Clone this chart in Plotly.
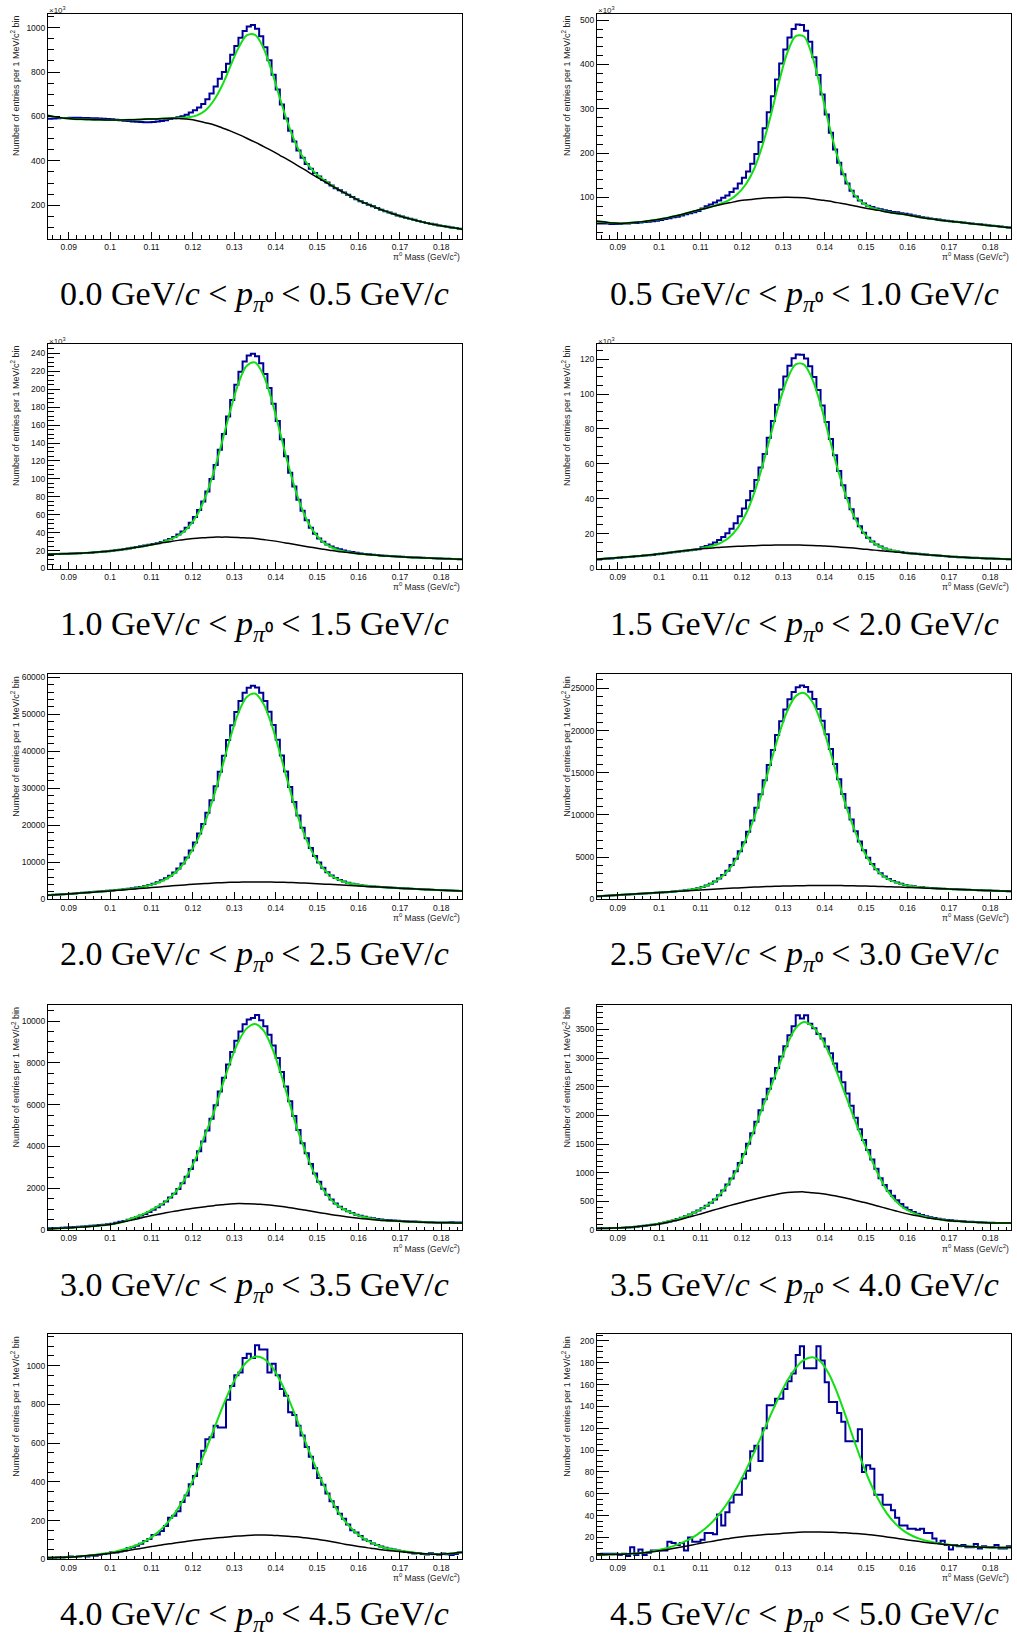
import numpy as np
import plotly.graph_objects as go

# ---------------------------------------------------------------------------
# Binning of the diphoton invariant-mass histograms
# ---------------------------------------------------------------------------
MASS_MIN, MASS_MAX = 0.085, 0.185   # GeV/c^2
BIN_WIDTH = 0.001                   # 1 MeV/c^2 per bin
CURVE_STEP = 0.002                  # fit functions tabulated every 2 MeV/c^2

# pi0 momentum slices (GeV/c)
p_low = ["0.0", "0.5", "1.0", "1.5", "2.0", "2.5", "3.0", "3.5", "4.0", "4.5"]
p_high = ["0.5", "1.0", "1.5", "2.0", "2.5", "3.0", "3.5", "4.0", "4.5", "5.0"]

# ---------------------------------------------------------------------------
# 0.0 - 0.5 GeV/c  (entries in units of 10^3)
# ---------------------------------------------------------------------------
hist_00_05 = [590, 591, 592, 593, 593, 594, 594, 594, 593, 593, 592, 592, 591, 590, 589,
              587, 585, 583, 581, 579, 577, 576, 575, 574, 574, 575, 577, 580, 583, 588,
              592, 596, 601, 608, 618, 628, 640, 656, 677, 703, 735, 770, 800, 838, 878,
              918, 955, 985, 1005, 1012,
              995, 961, 912, 853, 788, 721, 654, 591, 536, 487, 447, 414, 386, 364, 345,
              329, 314, 302, 289, 277,
              267, 257, 247, 237, 227, 218, 210, 202, 195, 187, 180, 173, 167, 161, 154,
              149, 144, 139, 134, 129, 124, 120, 116, 113, 109, 106, 103, 100, 97, 94]
fit_00_05 = [604, 597, 592, 589, 587, 586, 585, 584, 584, 584, 585, 586, 588, 589, 591, 592,
             593, 596, 605, 627, 671, 737, 824, 909, 965, 968, 911, 807, 683, 566, 471, 404,
             356, 322, 296, 272, 252, 232, 214, 199, 183, 170, 157, 146, 136, 126, 118, 111,
             104, 98, 92]
bkg_00_05 = [604, 597, 592, 589, 587, 586, 585, 584, 584, 584, 585, 586, 588, 589, 591, 592,
             590, 587, 581, 572, 563, 549, 535, 519, 502, 484, 465, 446, 425, 404, 382, 360,
             337, 315, 294, 272, 252, 232, 214, 199, 183, 170, 157, 146, 136, 126, 118, 111,
             104, 98, 92]

# ---------------------------------------------------------------------------
# 0.5 - 1.0 GeV/c  (units of 10^3)
# ---------------------------------------------------------------------------
hist_05_10 = [41, 41, 41, 40, 40, 40, 41, 41, 42, 42,
              43, 44, 45, 46, 47, 49, 51, 53, 55, 56,
              59, 62, 64, 66, 69, 75, 80, 84, 88, 93,
              99, 104, 112, 120, 131, 144, 158, 176, 198, 225,
              256, 292, 328, 366, 402, 434, 461, 480, 490, 489,
              476, 451, 416, 376, 332, 287, 246, 208, 178, 152,
              131, 115, 102, 93, 86, 81, 78, 75, 73, 71,
              69, 67, 66, 64, 63, 61, 59, 57, 55, 54,
              52, 51, 50, 48, 47, 46, 45, 44, 43, 42,
              41, 40, 39, 38, 37, 36, 35, 34, 33, 32]
fit_05_10 = [46, 44, 42, 41, 42.5, 44, 46.5, 49, 52, 56, 60, 65, 70, 75, 80, 86,
             94, 108, 130, 165, 218, 286, 362, 427, 464, 463, 419, 346, 265.5, 194.5, 142, 108,
             88.5, 78, 72, 67.4, 64, 61.5, 58.5, 55, 52, 49.5, 47, 45, 43, 41, 39, 37,
             35, 33, 31]
bkg_05_10 = [46, 44, 42, 41, 42.5, 44, 46.5, 49, 52, 56, 60, 65, 70, 74.5, 79.5, 84,
             87.5, 91.5, 94, 96, 98, 99, 99.8, 99.9, 99.5, 98.8, 96.5, 94, 91.5, 88, 85, 81,
             77, 73.5, 70.5, 67, 64, 61.5, 58.5, 55, 52, 49.5, 47, 45, 43, 41, 39, 37,
             35, 33, 31]

# ---------------------------------------------------------------------------
# 1.0 - 1.5 GeV/c  (units of 10^3)
# ---------------------------------------------------------------------------
hist_10_15 = [16.1, 16.2, 16.3, 16.4, 16.5, 16.6, 16.8, 17.0, 17.2, 17.4,
              17.7, 18.1, 18.5, 18.9, 19.3, 19.8, 20.4, 21.0, 21.6, 22.2,
              23.2, 24.0, 24.8, 25.6, 26.4, 27.2, 28.2, 29.7, 31.2, 32.9,
              35.2, 37.8, 41.3, 45.5, 51.1, 57.4, 65.3, 74.8, 86.0, 99.9,
              115.5, 132.6, 150.0, 169.5, 188.0, 204.9, 219.6, 230.8, 237.5, 239.7,
              236.7, 229.1, 217.0, 201.4, 183.8, 164.6, 144.3, 125.1, 106.7, 91.4,
              76.6, 64.3, 53.8, 45.4, 38.8, 33.6, 29.8, 26.7, 24.5, 22.7,
              21.4, 20.0, 19.0, 18.3, 17.6, 16.8, 16.2, 15.8, 15.4, 15.0,
              14.5, 14.2, 13.9, 13.6, 13.3, 13.0, 12.8, 12.6, 12.4, 12.2,
              12.0, 11.8, 11.6, 11.4, 11.2, 11.0, 10.9, 10.7, 10.6, 10.4]
fit_10_15 = [16, 16.2, 16.4, 16.7, 17.1, 17.5, 18.3, 19.1, 20.1, 21.3, 22.5, 24.1, 25.7, 27.3,
             30, 33.4, 38.2, 46.4, 59.6, 79.5, 107.1, 140.3, 175.7, 206.6, 226.2, 229.9, 216.1,
             188.4, 152.7, 116.2, 84.2, 59.4, 42.2, 31.3, 24.8, 20.8, 18.6, 17, 16.1, 15.3,
             14.5, 13.9, 13.3, 12.8, 12.4, 12, 11.6, 11.2, 10.9, 10.6, 10.3]
bkg_10_15 = [16, 16.2, 16.4, 16.7, 17.1, 17.5, 18.3, 19.1, 20.1, 21.3, 22.5, 24.1, 25.7, 27.3,
             28.9, 30.5, 31.7, 32.9, 33.8, 34.4, 35, 35, 35, 34.7, 34.1, 33.5, 32.3, 31.1,
             29.7, 28.1, 26.5, 24.9, 23.3, 21.8, 20.4, 19, 18, 17, 16.1, 15.3, 14.5, 13.9,
             13.3, 12.8, 12.4, 12, 11.6, 11.2, 10.9, 10.6, 10.3]

# ---------------------------------------------------------------------------
# 1.5 - 2.0 GeV/c  (units of 10^3)
# ---------------------------------------------------------------------------
hist_15_20 = [5.2, 5.4, 5.6, 5.8, 6.0, 6.2, 6.4, 6.6, 6.8, 7.0,
              7.2, 7.4, 7.6, 7.8, 8.1, 8.4, 8.7, 9.0, 9.3, 9.6,
              9.9, 10.2, 10.5, 10.8, 11.1, 12.2, 12.9, 13.7, 14.9, 16.4,
              18.1, 20.2, 22.8, 26.0, 30.0, 34.4, 39.2, 44.5, 50.7, 57.9,
              65.7, 75.0, 84.5, 93.9, 102.6, 110.1, 116.2, 120.5, 122.7, 122.6,
              120.4, 116.0, 109.8, 102.3, 93.5, 84.0, 74.3, 64.9, 55.9, 47.7,
              40.4, 34.0, 28.6, 24.2, 20.5, 17.7, 15.5, 13.8, 12.6, 11.5,
              10.8, 10.2, 9.8, 9.4, 9.1, 8.8, 8.6, 8.4, 8.2, 8.0,
              7.8, 7.6, 7.4, 7.2, 7.0, 6.8, 6.7, 6.5, 6.4, 6.3,
              6.2, 6.1, 6.0, 5.9, 5.8, 5.7, 5.6, 5.5, 5.4, 5.3]
fit_15_20 = [5.3, 5.7, 6.0, 6.4, 6.8, 7.2, 7.6, 8.1, 8.6, 9.3, 9.9, 10.5, 11.0, 12.0,
             13.0, 14.8, 17.9, 23.3, 31.5, 43.5, 59.1, 76.8, 94.5, 108.8, 117.0, 116.9,
             108.6, 94.1, 76.1, 58.2, 42.5, 30.3, 21.8, 16.3, 12.9, 11.1, 10.0, 9.0, 8.6,
             8.2, 7.8, 7.4, 7.1, 6.8, 6.5, 6.2, 6.0, 5.8, 5.6, 5.45, 5.3]
bkg_15_20 = [5.3, 5.7, 6.0, 6.4, 6.8, 7.2, 7.6, 8.1, 8.6, 9.3, 9.9, 10.5, 11.0, 11.5,
             11.8, 12.2, 12.4, 12.7, 12.9, 13.1, 13.3, 13.4, 13.5, 13.5, 13.45, 13.4,
             13.25, 13.05, 12.7, 12.4, 12.1, 11.7, 11.2, 10.8, 10.3, 9.9, 9.5, 9.0, 8.6,
             8.2, 7.8, 7.4, 7.1, 6.8, 6.5, 6.2, 6.0, 5.8, 5.6, 5.45, 5.3]

# ---------------------------------------------------------------------------
# 2.0 - 2.5 GeV/c
# ---------------------------------------------------------------------------
hist_20_25 = [1155, 1225, 1295, 1365, 1435, 1510, 1590, 1670, 1750, 1830,
              1940, 2030, 2115, 2200, 2290, 2385, 2480, 2580, 2705, 2825,
              2975, 3155, 3326, 3565, 3882, 4234, 4640, 5116, 5691, 6394,
              7260, 8335, 9665, 11297, 13181, 15378, 17789, 20365, 23371, 26747,
              30532, 34466, 38800, 43034, 47048, 50628, 53564, 55810, 57196, 57692,
              57215, 55835, 53595, 50665, 47105, 43113, 38889, 34565, 30341, 26277,
              22624, 19332, 16470, 13873, 11701, 9949, 8495, 7343, 6446, 5760,
              5237, 4840, 4492, 4214, 3989, 3800, 3671, 3560, 3470, 3388,
              3300, 3230, 3170, 3105, 3045, 2985, 2925, 2870, 2810, 2755,
              2700, 2645, 2592, 2540, 2488, 2440, 2392, 2346, 2300, 2254]
fit_20_25 = [1100, 1240, 1380, 1530, 1690, 1870, 2050, 2230, 2420, 2640, 2870, 3150, 3638,
             4299, 5202, 6544, 8587, 11686, 15846, 21028, 27640, 35418, 43566, 50376, 54658,
             55590, 52930, 47260, 39656, 31388, 23620, 17296, 12407, 8959, 6733, 5389, 4558,
             4059, 3737, 3480, 3330, 3180, 3060, 2944, 2832, 2720, 2616, 2512, 2414, 2322, 2230]
bkg_20_25 = [1100, 1240, 1380, 1530, 1690, 1850, 2018, 2186, 2360, 2540, 2720, 2900, 3080,
             3262, 3446, 3630, 3806, 3982, 4136, 4268, 4400, 4488, 4576, 4636, 4668, 4700,
             4680, 4660, 4616, 4548, 4480, 4376, 4272, 4160, 4040, 3920, 3792, 3664, 3540,
             3420, 3300, 3180, 3060, 2944, 2832, 2720, 2616, 2512, 2414, 2322, 2230]

# ---------------------------------------------------------------------------
# 2.5 - 3.0 GeV/c
# ---------------------------------------------------------------------------
hist_25_30 = [360, 390, 420, 450, 480, 510, 540, 570, 600, 630,
              660, 690, 720, 750, 785, 815, 850, 880, 910, 970,
              1018, 1077, 1145, 1226, 1330, 1458, 1625, 1836, 2112, 2457,
              2877, 3398, 4057, 4795, 5699, 6767, 7999, 9347, 10838, 12449,
              14098, 15914, 17710, 19466, 21092, 22505, 23705, 24585, 25145, 25345,
              25162, 24616, 23750, 22564, 21168, 19558, 17814, 16030, 14226, 12492,
              10846, 9467, 8081, 6861, 5807, 4917, 4191, 3574, 3085, 2699,
              2398, 2164, 1985, 1830, 1709, 1612, 1533, 1467, 1420, 1379,
              1330, 1300, 1280, 1255, 1235, 1215, 1195, 1175, 1155, 1135,
              1115, 1095, 1075, 1057, 1040, 1022, 1006, 990, 974, 958]
fit_25_30 = [350, 410, 470, 530, 590, 650, 710, 770, 830, 890, 970, 1070, 1272, 1534, 1958,
             2604, 3606, 5089, 7131, 9730, 12845, 16268, 19618, 22373, 24082, 24454, 23419,
             21166, 18082, 14644, 11285, 8480, 6146, 4413, 3232, 2486, 2031, 1738, 1546,
             1426, 1335, 1280, 1240, 1200, 1160, 1120, 1084, 1048, 1014, 982, 950]
bkg_25_30 = [350, 410, 470, 530, 590, 650, 710, 770, 830, 890, 950, 1010, 1070, 1130, 1190,
             1250, 1302, 1354, 1402, 1446, 1490, 1522, 1554, 1580, 1600, 1620, 1628, 1636,
             1636, 1628, 1620, 1600, 1580, 1556, 1528, 1500, 1464, 1428, 1392, 1356, 1320,
             1280, 1240, 1200, 1160, 1120, 1084, 1048, 1014, 982, 950]

# ---------------------------------------------------------------------------
# 3.0 - 3.5 GeV/c
# ---------------------------------------------------------------------------
hist_30_35 = [80, 90, 100, 110, 120, 130, 143, 156, 169, 182,
              198, 217, 236, 255, 274, 300, 345, 390, 435, 494,
              555, 621, 693, 770, 866, 970, 1083, 1215, 1369, 1550,
              1741, 1967, 2237, 2554, 2923, 3343, 3765, 4240, 4765, 5330,
              5971, 6630, 7291, 7926, 8524, 9053, 9497, 9843, 10081, 10150,
              10290, 10035, 9748, 9342, 8831, 8229, 7565, 6870, 6162, 5462,
              4788, 4154, 3678, 3160, 2704, 2307, 1970, 1688, 1454, 1264,
              1112, 993, 896, 808, 735, 677, 630, 590, 558, 529,
              500, 484, 471, 457, 443, 432, 422, 412, 402, 393,
              384, 376, 370, 362, 356, 354, 362, 370, 364, 357]
fit_30_35 = [50, 70, 90, 113, 139, 165, 203, 241, 300, 380, 532, 680, 854, 1070, 1307, 1644,
             2111, 2743, 3576, 4590, 5610, 6848, 8034, 9019, 9652, 9865, 9566, 8784, 7644,
             6309, 4966, 3852, 2845, 2081, 1540, 1168, 934, 762, 636, 556, 480, 448, 427,
             408, 391, 375, 363, 351, 343, 340, 336]
bkg_30_35 = [50, 70, 90, 113, 139, 165, 203, 241, 300, 380, 460, 552, 644, 728, 804, 880,
             944, 1008, 1065, 1115, 1165, 1205, 1245, 1265, 1261, 1250, 1218, 1186, 1140,
             1080, 1020, 952, 884, 818, 754, 690, 638, 586, 542, 506, 470, 448, 427, 408,
             391, 375, 363, 351, 343, 340, 336]

# ---------------------------------------------------------------------------
# 3.5 - 4.0 GeV/c
# ---------------------------------------------------------------------------
hist_35_40 = [28, 30, 31, 33, 35, 37, 40, 45, 50, 56,
              64, 73, 82, 92, 102, 117, 132, 148, 164, 190,
              215, 240, 270, 305, 339, 380, 425, 477, 534, 608,
              690, 792, 897, 1027, 1167, 1326, 1506, 1690, 1888, 2089,
              2280, 2463, 2645, 2826, 3029, 3206, 3399, 3555, 3745, 3690,
              3745, 3600, 3520, 3420, 3340, 3200, 3086, 2905, 2760, 2580,
              2380, 2170, 1960, 1760, 1570, 1395, 1230, 1070, 904, 785,
              686, 596, 517, 453, 394, 348, 314, 285, 261, 239,
              222, 209, 196, 185, 173, 169, 163, 157, 152, 146,
              142, 138, 135, 132, 128, 126, 124, 124, 123, 123]
fit_35_40 = [29, 31, 33, 38, 48, 62, 82, 102, 127, 160, 200, 257, 320, 401, 503, 645, 836,
             1084, 1396, 1755, 2139, 2499, 2875, 3247, 3523, 3630, 3557, 3374, 3092, 2741,
             2360, 1969, 1602, 1278, 960, 700, 520, 389, 311, 258, 218, 191, 172, 158, 148,
             138, 133, 128, 124, 123, 122]
bkg_35_40 = [29, 31, 33, 38, 48, 60, 78, 96, 119, 150, 180, 220, 260, 301, 343, 385, 425,
             464, 502, 536, 570, 601, 632, 653, 662, 665, 651, 637, 616, 588, 560, 525, 490,
             454, 414, 375, 337, 299, 266, 238, 210, 191, 172, 158, 148, 138, 133, 128, 124,
             123, 122]

# ---------------------------------------------------------------------------
# 4.0 - 4.5 GeV/c
# ---------------------------------------------------------------------------
hist_40_45 = [6, 8, 10, 9, 12, 14, 12, 14, 17, 15,
              20, 18, 23, 27, 30, 36, 35, 40, 46, 58,
              62, 70, 80, 95, 105, 126, 128, 146, 172, 214,
              225, 248, 296, 330, 388, 430, 492, 560, 620, 630,
              690, 681, 681, 824, 895, 950, 965, 1040, 1062, 1040,
              1105, 1083, 1083, 965, 1010, 950, 880, 845, 760, 745,
              690, 640, 580, 530, 470, 420, 385, 340, 300, 270,
              235, 210, 180, 150, 138, 120, 102, 95, 82, 74,
              66, 60, 55, 50, 46, 42, 38, 35, 30, 33,
              28, 25, 31, 27, 24, 30, 26, 22, 28, 35]
fit_40_45 = [9, 9.5, 10.5, 12.5, 16, 20, 25, 31, 38, 49, 62, 78, 100, 130, 169, 219, 283,
             362, 455, 559, 668, 778, 879, 961, 1019, 1046, 1038, 996, 926, 834, 729, 617,
             509, 410, 323, 249, 190, 145, 111, 87, 69, 56, 48, 41, 36, 31, 27, 26, 28, 31, 36]
bkg_40_45 = [9, 9.5, 10.5, 12.5, 16, 20, 24, 29, 34, 41, 48, 55, 62, 69, 76, 82, 88, 94,
             100, 105, 109, 113, 117, 120, 123, 125, 125, 124.5, 122, 119, 116, 111, 106,
             100, 93, 85, 77, 70, 63, 57, 51, 46, 42, 38, 34, 30, 27, 26, 28, 31, 36]

# ---------------------------------------------------------------------------
# 4.5 - 5.0 GeV/c
# ---------------------------------------------------------------------------
hist_45_50 = [4, 5, 5, 5, 5, 4, 5, 3, 11, 4,
              9, 4, 6, 8, 8, 8, 8, 16, 15, 13,
              15, 8, 20, 16, 16, 18, 24, 24, 23, 41,
              31, 43, 52, 59, 59, 74, 81, 99, 104, 90,
              120, 141, 141, 147, 147, 156, 163, 170, 187, 195,
              175, 175, 175, 195, 182, 162, 144, 144, 134, 126,
              108, 108, 108, 119, 80, 86, 83, 59, 59, 50,
              50, 45, 38, 31, 31, 28, 28, 27, 28, 24,
              24, 19, 15, 17, 13, 9, 13, 12, 13, 11,
              11, 14, 10, 12, 11, 11, 13, 10, 10, 12]
fit_45_50 = [4, 4.2, 4.4, 4.7, 5.1, 5.6, 6.3, 7.8, 9.4, 11.6, 14.3, 17.7, 22.2, 27.7, 34.7,
             43.6, 54.3, 67.2, 81.9, 98.1, 115.3, 132.6, 149.1, 163.7, 175.1, 182.6, 185,
             181.1, 169.8, 152.7, 132, 109.9, 89, 70.1, 54.5, 42.1, 32.9, 26.3, 21.8, 18.7,
             16.5, 15, 13.7, 12.9, 12.2, 11.7, 11.3, 11, 10.8, 10.7, 10.7]
bkg_45_50 = [4, 4.2, 4.4, 4.7, 5.1, 5.5, 6.2, 7.1, 8.2, 9.6, 11, 12.4, 13.9, 15.3, 16.6, 18,
             19.1, 20.2, 21.1, 21.8, 22.5, 23, 23.5, 24, 24.5, 25, 25, 25, 24.8, 24.5, 24.2,
             23.7, 23.2, 22.4, 21.5, 20.5, 19.4, 18.3, 17.2, 16.2, 15.2, 14.4, 13.5, 12.8,
             12.2, 11.7, 11.3, 11, 10.8, 10.7, 10.7]

# ---------------------------------------------------------------------------
# Per-panel axis settings: (hist, fit, background, y-range, major step, minor step,
# values quoted in units of 10^3?)
# ---------------------------------------------------------------------------
panels = [
    (hist_00_05, fit_00_05, bkg_00_05, [50, 1064], 200, 50, True),
    (hist_05_10, fit_05_10, bkg_05_10, [7, 515], 100, 20, True),
    (hist_10_15, fit_10_15, bkg_10_15, [0, 251], 20, 5, True),
    (hist_15_20, fit_15_20, bkg_15_20, [0, 129], 20, 5, True),
    (hist_20_25, fit_20_25, bkg_20_25, [0, 60800], 10000, 2000, False),
    (hist_25_30, fit_25_30, bkg_25_30, [0, 26670], 5000, 1000, False),
    (hist_30_35, fit_30_35, bkg_30_35, [0, 10770], 2000, 500, False),
    (hist_35_40, fit_35_40, bkg_35_40, [0, 3926], 500, 100, False),
    (hist_40_45, fit_40_45, bkg_40_45, [0, 1162], 200, 50, False),
    (hist_45_50, fit_45_50, bkg_45_50, [0, 206], 20, 5, False),
]

# ---------------------------------------------------------------------------
# Page geometry (pixels)
# ---------------------------------------------------------------------------
W, H = 1017, 1636
COL_X = [(48, 462), (597, 1011)]
ROW_TOP = [13.5, 343.5, 674.3, 1005, 1334.3]
FRAME_H = 225
YTITLE_X = [15, 566]

HIST_COLOR = "#000099"
FIT_COLOR = "#11e011"
BKG_COLOR = "#000000"
TICK_FONT = dict(family="Liberation Sans, Arial, sans-serif", size=8.5, color="#111111")
YTITLE_FONT = dict(family="Liberation Sans, Arial, sans-serif", size=9, color="#222222")
XTITLE_FONT = dict(family="Liberation Sans, Arial, sans-serif", size=8.5, color="#222222")
EXP_FONT = dict(family="Liberation Sans, Arial, sans-serif", size=8, color="#222222")
CAPTION_FONT = dict(family="Liberation Serif, Times New Roman, serif", size=34, color="#000000")

fig = go.Figure()
annotations = []

for k, (hist, fit, bkg, yrange, major, minor, in_thousands) in enumerate(panels):
    row, col = divmod(k, 2)
    x0, x1 = COL_X[col]
    top = ROW_TOP[row]
    bottom = top + FRAME_H
    suffix = "" if k == 0 else str(k + 1)
    xname, yname = "x" + suffix, "y" + suffix

    # histogram outline drawn as steps between bin edges
    edges = MASS_MIN + BIN_WIDTH * np.arange(len(hist) + 1)
    fig.add_trace(go.Scatter(
        x=edges, y=list(hist) + [hist[-1]], mode="lines",
        line=dict(color=HIST_COLOR, width=2, shape="hv"),
        xaxis=xname, yaxis=yname, hoverinfo="skip", showlegend=False))

    grid = MASS_MIN + CURVE_STEP * np.arange(len(fit))
    fig.add_trace(go.Scatter(
        x=grid, y=fit, mode="lines",
        line=dict(color=FIT_COLOR, width=2, shape="spline", smoothing=0.9),
        xaxis=xname, yaxis=yname, hoverinfo="skip", showlegend=False))
    fig.add_trace(go.Scatter(
        x=grid, y=bkg, mode="lines",
        line=dict(color=BKG_COLOR, width=1.5, shape="spline", smoothing=0.9),
        xaxis=xname, yaxis=yname, hoverinfo="skip", showlegend=False))

    xdom = [x0 / W, x1 / W]
    ydom = [1 - bottom / H, 1 - top / H]

    fig.layout["xaxis" + suffix] = dict(
        domain=xdom, anchor=yname, range=[MASS_MIN, MASS_MAX],
        tickmode="linear", tick0=0.08, dtick=0.01, tickformat="~g",
        ticks="inside", ticklen=7, tickwidth=1, tickcolor="black",
        minor=dict(ticks="inside", ticklen=3.5, tickwidth=1, tickcolor="black",
                   tick0=0.08, dtick=0.002, showgrid=False),
        showline=True, linecolor="black", linewidth=1, mirror=True,
        showgrid=False, zeroline=False, tickfont=TICK_FONT, fixedrange=True)
    fig.layout["yaxis" + suffix] = dict(
        domain=ydom, anchor=xname, range=yrange,
        tickmode="linear", tick0=0, dtick=major, tickformat="d",
        ticks="inside", ticklen=12, tickwidth=1, tickcolor="black",
        minor=dict(ticks="inside", ticklen=6, tickwidth=1, tickcolor="black",
                   tick0=0, dtick=minor, showgrid=False),
        showline=True, linecolor="black", linewidth=1, mirror=True,
        showgrid=False, zeroline=False, tickfont=TICK_FONT, fixedrange=True)

    # axis titles in ROOT style
    annotations.append(dict(
        text="Number of entries per 1 MeV/c<sup>2</sup> bin", textangle=-90,
        xref="paper", yref="paper", x=YTITLE_X[col] / W, y=1 - top / H,
        xanchor="center", yanchor="top", showarrow=False, font=YTITLE_FONT))
    annotations.append(dict(
        text="π<sup>0</sup> Mass (GeV/c<sup>2</sup>)",
        xref="paper", yref="paper", x=x1 / W, y=1 - (bottom + 18) / H,
        xanchor="right", yanchor="middle", showarrow=False, font=XTITLE_FONT))
    if in_thousands:
        annotations.append(dict(
            text="×10<sup>3</sup>", xref="paper", yref="paper",
            x=(x0 - 1) / W, y=1 - (top - 3) / H,
            xanchor="left", yanchor="middle", showarrow=False, font=EXP_FONT))

    # momentum-slice caption under each panel
    caption = (f"{p_low[k]} GeV/<i>c</i> &lt; <i>p</i><sub><i>π</i>⁰</sub> "
               f"&lt; {p_high[k]} GeV/<i>c</i>")
    annotations.append(dict(
        text=caption, xref="paper", yref="paper",
        x=(x0 + x1) / 2 / W, y=1 - (top + 282) / H,
        xanchor="center", yanchor="middle", showarrow=False, font=CAPTION_FONT))

fig.update_layout(
    template="none",
    width=W, height=H, autosize=False,
    margin=dict(l=0, r=0, t=0, b=0),
    paper_bgcolor="white", plot_bgcolor="white",
    showlegend=False, annotations=annotations)

fig.write_html("out.html")
